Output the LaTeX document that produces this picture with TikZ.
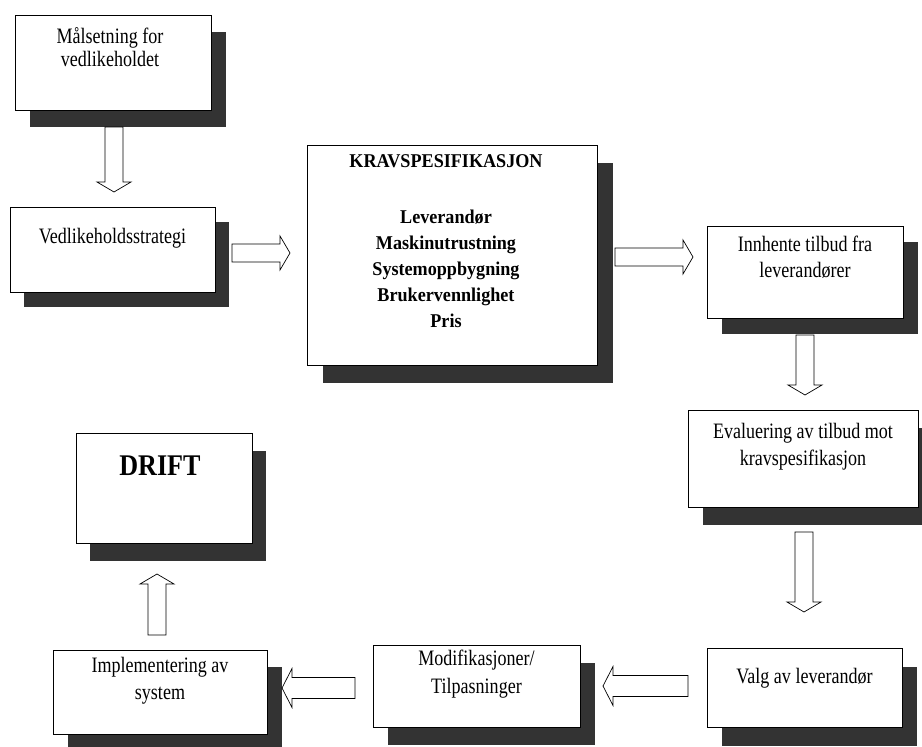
\documentclass[tikz,border=0pt]{standalone}
\usepackage{fontspec}
\setmainfont{Liberation Serif}[FakeStretch=0.82]
\newfontfamily\kravfont{Liberation Serif}[FakeStretch=0.93]
\newfontfamily\driftfont{Liberation Serif}[FakeStretch=0.87]
\usetikzlibrary{calc,shadows}

% box contents: width, height, first baseline below the top edge, text
\newcommand\boxcontent[4]{\parbox[c][#2][t]{#1}{\centering\rule{0pt}{#3}#4\par}}

\tikzset{
  procbox/.style={draw=black, line width=0.8pt, fill=white, inner sep=0pt,
    outer sep=0pt, anchor=north west,
    font=\fontsize{22}{26}\selectfont},
  shade off/.style 2 args={drop shadow={shadow xshift=#1pt, shadow yshift=-#2pt,
    fill=black!80, opacity=1, draw=none}},
  shaft half/.store in=\shafthw, head half/.store in=\headhw, head len/.store in=\headln,
  shaft half=9, head half=17, head len=10,
  hollow/.style={draw=black, fill=white, line width=0.7pt, line join=miter,
    to path={let \p1=(\tikztostart), \p2=(\tikztotarget),
      \n1={atan2(\y2-\y1,\x2-\x1)} in
      ($(\p1)+(\n1+90:\shafthw pt)$)
      -- ($(\p2)+(\n1+180:\headln pt)+(\n1+90:\shafthw pt)$)
      -- ($(\p2)+(\n1+180:\headln pt)+(\n1+90:\headhw pt)$)
      -- (\p2)
      -- ($(\p2)+(\n1+180:\headln pt)+(\n1-90:\headhw pt)$)
      -- ($(\p2)+(\n1+180:\headln pt)+(\n1-90:\shafthw pt)$)
      -- ($(\p1)+(\n1-90:\shafthw pt)$) -- cycle}},
  wide/.style={shaft half=10.5, head half=19.5}
}

\begin{document}
\begin{tikzpicture}[x=1pt,y=-1pt]
\useasboundingbox (0,0) rectangle (922,747);

% process boxes
\node[procbox, shade off={15}{17}] (mal) at (15,15)
  {\boxcontent{196pt}{95pt}{28pt}{\rightskip=6pt plus 1fil Målsetning for\\[-3pt]vedlikeholdet}};
\node[procbox, shade off={14}{15}] (ved) at (10,207)
  {\boxcontent{205pt}{85pt}{36pt}{Vedlikeholdsstrategi}};
\node[procbox, shade off={16}{18}] (krav) at (307,145)
  {\boxcontent{290pt}{220pt}{22pt}{\rightskip=12pt plus 1fil
    \kravfont\bfseries\fontsize{19.5}{26}\selectfont
    KRAVSPESIFIKASJON\\[30pt]Leverandør\\Maskinutrustning\\Systemoppbygning\\Brukervennlighet\\Pris}};
\node[procbox, shade off={15}{16}] (inn) at (707,226)
  {\boxcontent{196pt}{92pt}{25pt}{Innhente tilbud fra\\leverandører}};
\node[procbox, shade off={15}{18}] (eval) at (688,410)
  {\boxcontent{230pt}{97pt}{28pt}{Evaluering av tilbud mot\\[1pt]kravspesifikasjon}};
\node[procbox, shade off={15}{19}] (valg) at (707,648)
  {\boxcontent{195pt}{79pt}{35pt}{Valg av leverandør}};
\node[procbox, shade off={15}{18}] (modif) at (373,645)
  {\boxcontent{207pt}{82pt}{20pt}{Modifikasjoner/\\[2pt]Tilpasninger}};
\node[procbox, shade off={15}{17}] (impl) at (53,650)
  {\boxcontent{214pt}{84pt}{22pt}{Implementering av\\[1pt]system}};
\node[procbox, shade off={14}{18}] (drift) at (76,433)
  {\boxcontent{176pt}{110pt}{42pt}{\rightskip=8pt plus 1fil
    \driftfont\bfseries\fontsize{30}{34}\selectfont DRIFT}};

% hollow block arrows between the boxes
\draw[hollow] ($(mal.south)+(1,17)$) to ($(mal.south |- ved.north)+(1,-15)$);
\draw[hollow] ($(ved.east)+(17,3.5)$) to ($(krav.west)+(-17,-2)$);
\draw[hollow] ($(krav.east)+(18,2)$) to ($(krav.east -| inn.west)+(-14,2)$);
\draw[hollow] ($(inn.south)+(0,17)$) to ($(inn.south |- eval.north)+(0,-15)$);
\draw[hollow] ($(eval.south)+(1,25)$) to ($(eval.south |- valg.north)+(1,-36)$);
\draw[hollow, wide] ($(modif.east -| valg.west)+(-19,0)$) to ($(modif.east)+(23,0)$);
\draw[hollow, wide] ($(modif.west)+(-18,2)$) to ($(modif.west -| impl.east)+(15,2)$);
\draw[hollow] ($(impl.north)+(-3,-15)$) to ($(impl.north |- drift.south)+(-3,31)$);
\end{tikzpicture}
\end{document}
